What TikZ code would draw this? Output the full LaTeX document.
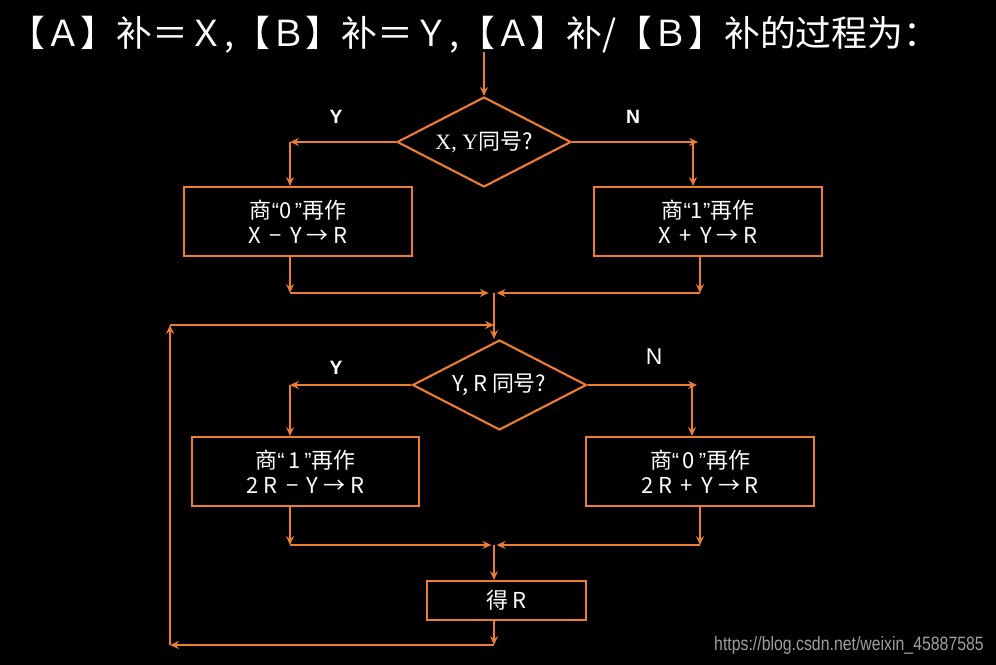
\documentclass[tikz,border=0pt]{standalone}
\usepackage{fontspec}
\setmainfont{Noto Sans CJK SC}
\newfontfamily\serifx{Liberation Serif}
\newfontfamily\arialx{Liberation Sans}
\newfontfamily\urlx[FakeStretch=0.82]{Liberation Sans}
\usetikzlibrary{shapes.geometric,arrows.meta}
\definecolor{flow}{RGB}{237,125,49}
\newcommand\oq{{\arialx “}}
\newcommand\cq{{\arialx ”}}

\begin{document}
\begin{tikzpicture}[x=0.02cm,y=-0.02cm,
    line/.style={draw=flow,line width=1.2pt},
    arr/.style={draw=flow,line width=1.1pt,-{Stealth[length=5pt,width=4.5pt]}},
    box/.style={line,rectangle,inner sep=0pt,text=white,align=center,font=\fontsize{12.5}{14.2}\selectfont},
    dia/.style={line,diamond,aspect=1.93,minimum width=3.48cm,minimum height=1.8cm,inner sep=0pt,text=white,font=\fontsize{12.5}{14}\selectfont},
    lbl/.style={text=white,font=\arialx\bfseries\fontsize{11}{13}\selectfont}]
\fill[black] (0,0) rectangle (996,665);
\useasboundingbox (0,0) rectangle (996,665);

\node[text=white,anchor=west,font=\fontsize{20.4}{22}\selectfont] (title) at (3,35) {【Ａ】补＝Ｘ,【Ｂ】补＝Ｙ,【Ａ】补/【Ｂ】补的过程为：};

% first test
\node[dia] (q1) at (484,142) {{\serifx X, Y}同号?};
\node[box,minimum width=4.56cm,minimum height=1.38cm] (b1) at (298,221.5) {商\oq 0\,\cq 再作\\X \,−\, Y → R};
\node[box,minimum width=4.56cm,minimum height=1.38cm] (b2) at (708,221.5) {商\oq 1\cq 再作\\X \,+\, Y → R};
\node[lbl] (y1) at (336,117) {Y};
\node[lbl] (n1) at (633,117) {N};
\coordinate (start) at (484,52);
\coordinate (ly1) at (290,142);
\coordinate (rn1) at (698,142);
\coordinate (rv1) at (693,142);
\draw[arr] (start) -- (q1.north);
\draw[arr] (q1.west) -- (ly1);
\draw[arr] (ly1) -- (ly1 |- b1.north);
\draw[arr] (q1.east) -- (rn1);
\draw[arr] (rv1) -- (rv1 |- b2.north);

\coordinate (m1) at (494,293);
\coordinate (ml1) at (290,293);
\coordinate (mr1) at (700,293);
\draw[arr] (ml1 |- b1.south) -- (ml1);
\draw[arr] (mr1 |- b2.south) -- (mr1);
\draw[arr,shorten >=3pt] (ml1) -- (m1);
\draw[arr,shorten >=1.5pt] (mr1) -- (m1);

% second test
\node[dia] (q2) at (499.5,385) {Y, R 同号?};
\node[box,minimum width=4.54cm,minimum height=1.38cm] (b3) at (305.5,471.5) {商\oq\,1\,\cq 再作\\2 R \,−\, Y → R};
\node[box,minimum width=4.56cm,minimum height=1.38cm] (b4) at (700,471.5) {商\oq\,0\,\cq 再作\\2 R \,+\, Y → R};
\node[lbl] (y2) at (336,368) {Y};
\node[text=white,font=\arialx\fontsize{13}{15}\selectfont] (n2) at (654,357) {N};
\coordinate (ly2) at (290,385);
\coordinate (rn2) at (697,385);
\coordinate (rv2) at (692,385);
\draw[arr] (m1) -- (m1 |- q2.north);
\draw[arr] (q2.west) -- (ly2);
\draw[arr] (ly2) -- (ly2 |- b3.north);
\draw[arr] (q2.east) -- (rn2);
\draw[arr] (rv2) -- (rv2 |- b4.north);

\coordinate (m2) at (494,545);
\coordinate (ml2) at (290,545);
\coordinate (mr2) at (700,545);
\draw[arr] (ml2 |- b3.south) -- (ml2);
\draw[arr] (mr2 |- b4.south) -- (mr2);
\draw[arr,shorten >=1.5pt] (ml2) -- (m2);
\draw[arr,shorten >=1.5pt] (mr2) -- (m2);

\node[box,minimum width=3.18cm,minimum height=0.78cm] (r) at (506.5,600.5) {得 R};
\draw[arr] (m2) -- (m2 |- r.north);

% loop back
\coordinate (lp1) at (170,325);
\coordinate (lp2) at (170,645);
\coordinate (lp3) at (494,645);
\coordinate (lp4) at (494,325);
\draw[arr] (lp3 |- r.south) -- (lp3);
\draw[arr] (lp3) -- (lp2);
\draw[arr] (lp2) -- (lp1);
\draw[arr] (lp1) -- (lp4);

\node[anchor=east,text=gray!75,font=\urlx\fontsize{11}{13}\selectfont] (wm) at (990,645) {https://blog.csdn.net/weixin\_45887585};
\end{tikzpicture}
\end{document}
